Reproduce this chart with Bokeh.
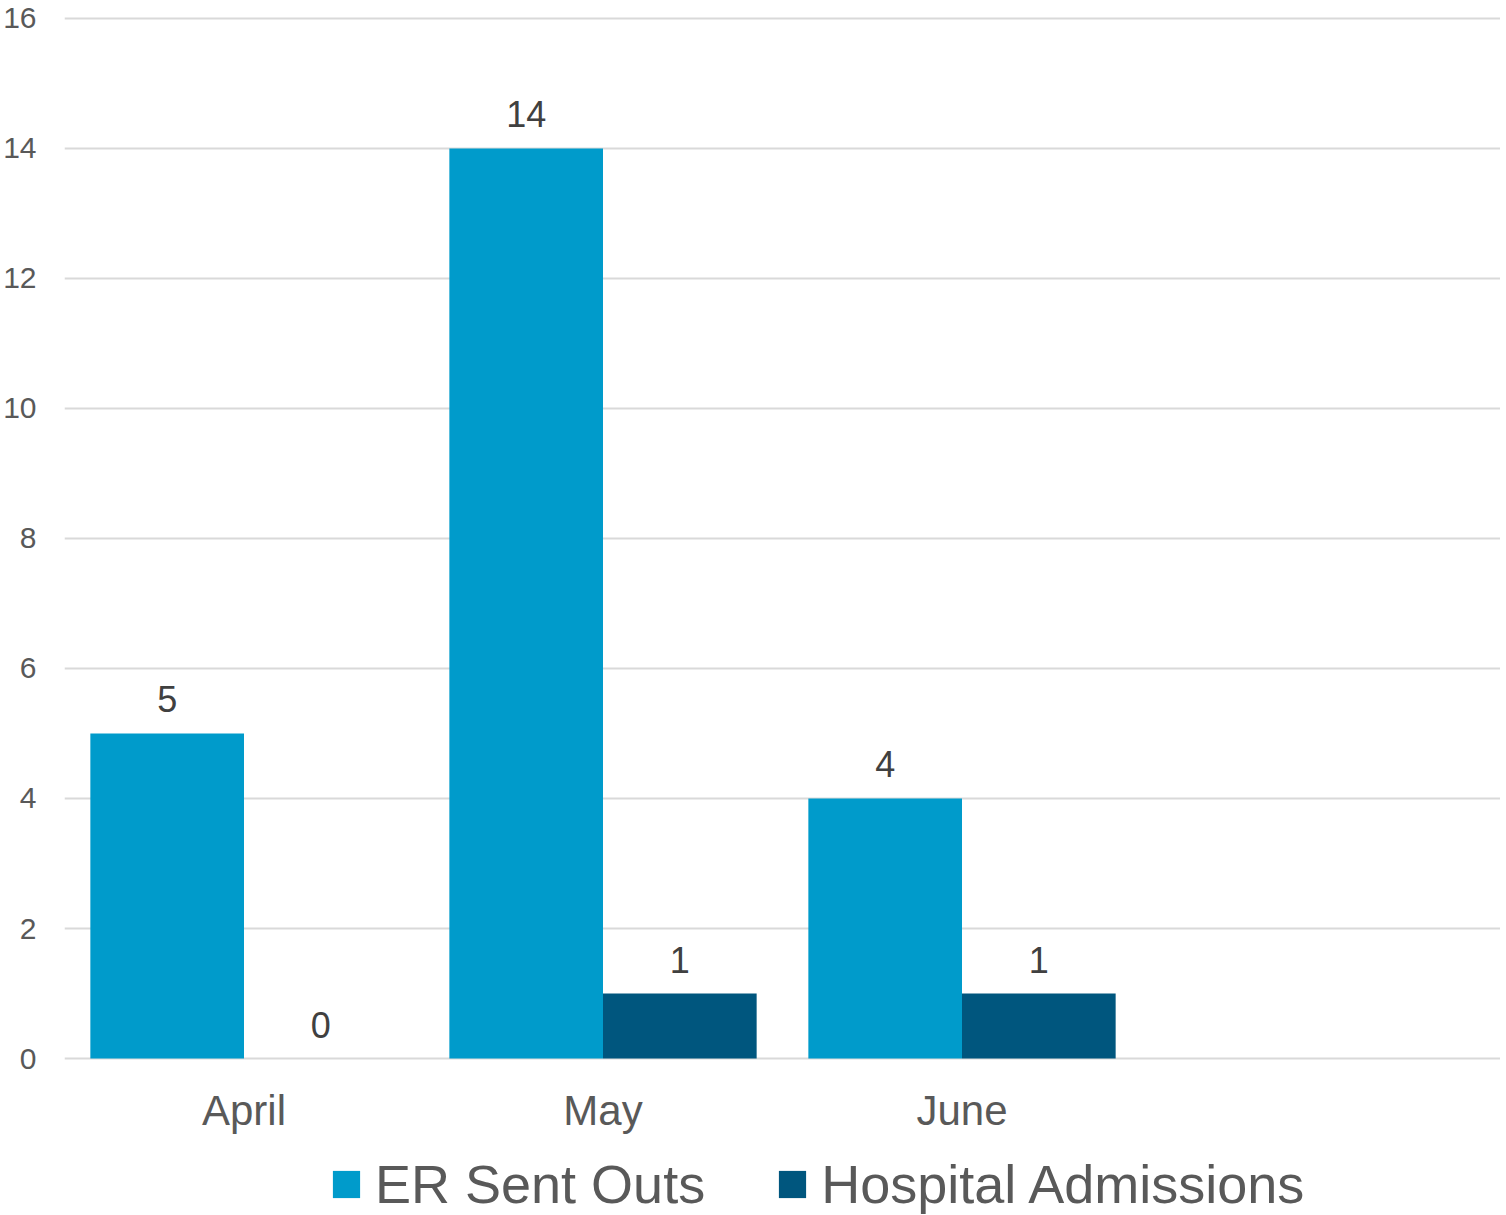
from bokeh.plotting import figure
from bokeh.models import FactorRange, Range1d, Legend, LegendItem, FixedTicker, ColumnDataSource
from bokeh.transform import dodge
from bokeh.core.properties import value
from bokeh.embed import file_html
from bokeh.resources import INLINE

months = ["April", "May", "June", " "]
er_sent_outs = [5, 14, 4]
hospital_admissions = [0, 1, 1]
y_ticks = [0, 2, 4, 6, 8, 10, 12, 14, 16]
series_names = ["ER Sent Outs", "Hospital Admissions"]

ER_COLOR = "#009BCB"
HA_COLOR = "#00567E"
FONT = "Liberation Sans"

src = ColumnDataSource(dict(
    month=months[:3],
    base=[0] * 3,
    er=er_sent_outs,
    ha=hospital_admissions,
    er_lbl=[str(v) for v in er_sent_outs],
    ha_lbl=[str(v) for v in hospital_admissions],
))

# frame extends below the zero line to hold the category labels and legend
p = figure(x_range=FactorRange(factors=months, range_padding=0),
           y_range=Range1d(-2.415, 16.03),
           frame_width=1436, frame_height=1199,
           x_axis_location=None,
           min_border_left=57, min_border_top=16, min_border_right=0, min_border_bottom=0,
           output_backend="svg", toolbar_location=None,
           background_fill_color="white", border_fill_color="white", outline_line_color=None)

bw = 0.428
r1 = p.vbar(x=dodge("month", -0.214, range=p.x_range), top="er", width=bw, source=src,
            fill_color=ER_COLOR, line_color=None)
r2 = p.vbar(x=dodge("month", 0.214, range=p.x_range), top="ha", width=bw, source=src,
            fill_color=HA_COLOR, line_color=None)

for col, off in (("er", -0.214), ("ha", 0.214)):
    p.text(x=dodge("month", off, range=p.x_range), y=col, text=col + "_lbl", source=src,
           text_align="center", text_baseline="bottom", y_offset=-21,
           text_font=value(FONT), text_font_size="36px", text_color="#404040")

# category labels under the zero line
p.text(x="month", y="base", text="month", source=src,
       text_align="center", text_baseline="middle", y_offset=52,
       text_font=value(FONT), text_font_size="42px", text_color="#595959")

# y axis
p.yaxis.ticker = FixedTicker(ticks=y_ticks)
p.yaxis.axis_line_color = None
p.yaxis.major_tick_line_color = None
p.yaxis.minor_tick_line_color = None
p.yaxis.major_tick_out = 0
p.yaxis.major_label_standoff = 28
p.yaxis.major_label_text_font = FONT
p.yaxis.major_label_text_font_size = "30px"
p.yaxis.major_label_text_color = "#595959"

p.xgrid.grid_line_color = None
p.ygrid.grid_line_color = "#D9D9D9"
p.ygrid.grid_line_width = 2

legend = Legend(items=[LegendItem(label=series_names[0], renderers=[r1]),
                       LegendItem(label=series_names[1], renderers=[r2])],
                orientation="horizontal", location=(265, 0),
                label_text_font=FONT, label_text_font_size="54px", label_text_color="#595959",
                glyph_width=34, glyph_height=34, label_standoff=12, spacing=70,
                padding=0, margin=0, border_line_color=None, background_fill_alpha=0)
p.add_layout(legend, "center")

open("out.html", "w").write(file_html(p, INLINE))
